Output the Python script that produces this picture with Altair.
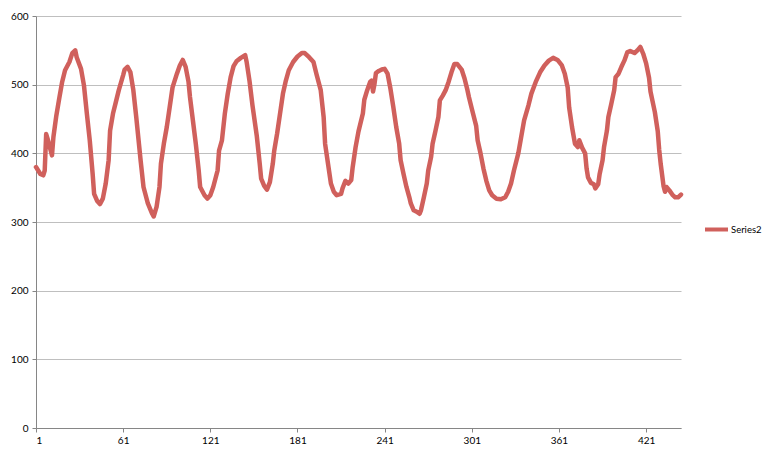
import altair as alt
import pandas as pd

# category index (x) and value (y)
cats = [1, 4, 6, 7, 8, 9, 12, 13, 15, 17, 19, 21, 24, 26, 28, 29, 32, 34, 36, 38,
        40, 41, 43, 45, 47, 49, 51, 52, 54, 56, 58, 61, 62, 64, 66, 68, 70, 73, 75, 78,
        81, 82, 84, 86, 87, 89, 91, 93, 95, 98, 100, 102, 104, 106, 107, 109, 111, 113, 114, 117,
        119, 121, 123, 126, 127, 129, 131, 133, 135, 137, 139, 142, 145, 146, 148, 150, 153, 155, 156, 158,
        160, 162, 164, 165, 167, 169, 171, 173, 175, 178, 181, 184, 186, 189, 192, 194, 197, 199, 200, 202,
        204, 206, 208, 211, 212, 214, 216, 218, 219, 221, 223, 226, 227, 229, 231, 232, 233, 234, 235, 237,
        239, 241, 243, 245, 247, 249, 251, 252, 254, 256, 258, 259, 261, 263, 265, 266, 268, 270, 271, 273,
        274, 276, 278, 279, 281, 283, 285, 287, 289, 291, 294, 296, 298, 299, 301, 304, 305, 307, 309, 311,
        313, 315, 318, 321, 324, 326, 328, 330, 333, 335, 337, 340, 342, 345, 348, 351, 354, 357, 360, 363,
        365, 367, 368, 370, 372, 374, 375, 377, 379, 380, 381, 383, 385, 386, 388, 389, 391, 392, 394, 395,
        397, 399, 400, 402, 404, 406, 408, 410, 413, 415, 417, 419, 421, 423, 424, 427, 429, 430, 431, 433,
        434, 435, 437, 439, 441, 443, 445]
vals = [380, 370, 368, 375, 428, 421, 397, 424, 455, 480, 504, 521, 533, 546, 550, 540, 523, 499, 458, 419,
        370, 341, 331, 326, 334, 356, 390, 433, 458, 475, 492, 514, 522, 526, 518, 492, 453, 390, 351, 327,
        312, 308, 322, 351, 385, 414, 438, 467, 496, 516, 528, 536, 526, 504, 482, 448, 414, 375, 351, 339,
        334, 339, 351, 375, 404, 419, 458, 487, 511, 527, 534, 539, 543, 533, 505, 470, 425, 385, 363, 353,
        347, 358, 385, 404, 429, 458, 487, 506, 521, 533, 541, 546, 546, 540, 533, 516, 492, 453, 414, 385,
        356, 344, 339, 341, 349, 360, 356, 361, 380, 409, 432, 458, 478, 492, 504, 506, 490, 501, 517, 520,
        522, 523, 516, 494, 467, 438, 414, 390, 370, 351, 336, 327, 317, 315, 312, 317, 336, 356, 375, 395,
        414, 433, 453, 477, 484, 492, 504, 518, 530, 530, 522, 509, 492, 482, 465, 440, 419, 400, 378, 360,
        346, 339, 334, 333, 336, 344, 356, 375, 400, 424, 448, 470, 487, 504, 518, 528, 535, 539, 536, 528,
        516, 496, 467, 438, 414, 409, 419, 408, 400, 378, 365, 357, 355, 349, 355, 370, 390, 409, 433, 453,
        472, 492, 511, 516, 526, 535, 547, 549, 546, 550, 555, 545, 531, 510, 490, 460, 432, 405, 385, 352,
        344, 351, 346, 340, 336, 336, 340]
series_name = "Series2"
x_ticks = [1, 61, 121, 181, 241, 301, 361, 421]
y_ticks = [0, 100, 200, 300, 400, 500, 600]

df = pd.DataFrame({"cat": cats, "val": vals, "series": series_name})

FONT = "Lato"

chart = alt.Chart(df).mark_line(strokeWidth=4.5, strokeJoin="round", strokeCap="round").encode(
    x=alt.X("cat:Q",
            scale=alt.Scale(domain=[1, 445], nice=False, zero=False),
            axis=alt.Axis(values=x_ticks, grid=False, title=None,
                          domainColor="#868686", tickColor="#868686", tickSize=4,
                          labelFontSize=10, labelPadding=3, labelColor="#000000",
                          labelFont=FONT)),
    y=alt.Y("val:Q",
            scale=alt.Scale(domain=[0, 600], nice=False),
            axis=alt.Axis(values=y_ticks, grid=True, gridColor="#BFBFBF", gridWidth=1.2,
                          title=None, domainColor="#868686", tickColor="#868686",
                          tickSize=4, labelFontSize=10, labelPadding=4,
                          labelColor="#000000", labelFont=FONT)),
    color=alt.Color("series:N",
                    scale=alt.Scale(range=["#D0605C"]),
                    legend=alt.Legend(title=None, orient="none", legendX=667, legendY=200,
                                      symbolType="stroke", symbolSize=529,
                                      symbolStrokeWidth=4, labelFontSize=9.5,
                                      labelOffset=1, labelFont=FONT,
                                      labelColor="#000000")),
).properties(
    width=645, height=412,
    autosize=alt.AutoSizeParams(type="none"),
    padding={"left": 28, "top": 8, "right": 85, "bottom": 18},
    background="white",
).configure_view(strokeWidth=0)

chart.save("out.html", embed_options={"renderer": "svg", "actions": False})
